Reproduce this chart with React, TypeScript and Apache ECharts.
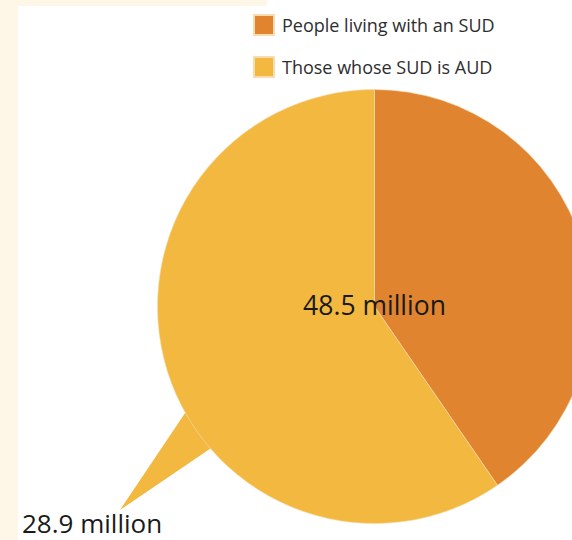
import React, { useEffect, useRef } from "react";
import * as echarts from "echarts";

const categories = ["People living with an SUD", "Those whose SUD is AUD"];
const totals = [48.5, 28.9]; // million
const sliceValues = [48.5 - 28.9, 28.9];
const colors = ["#e08430", "#f2b83f"];
const centerLabel = "48.5 million";
const tailLabel = "28.9 million";

const CX = 374.5;
const CY = 306.5;
const R = 217;

function onCircle(deg: number): number[] {
  const a = (deg * Math.PI) / 180;
  return [CX + R * Math.cos(a), CY - R * Math.sin(a)];
}

export default function App() {
  const ref = useRef<HTMLDivElement>(null);
  useEffect(() => {
    const chart = echarts.init(ref.current!, null, { renderer: "svg" });
    const p1 = onCircle(209.3);
    const p2 = onCircle(220.9);
    chart.setOption({
      animation: false,
      backgroundColor: "#ffffff",
      legend: {
        orient: "vertical",
        left: 253,
        top: 14,
        padding: 0,
        icon: "rect",
        itemWidth: 20,
        itemHeight: 20,
        itemGap: 20,
        textStyle: { fontSize: 18, color: "#2e2e2e", fontFamily: "Open Sans", padding: [0, 0, 0, 3] },
        data: categories,
      },
      graphic: [
        { type: "rect", z: -10, shape: { x: 0, y: 0, width: 18, height: 540 }, style: { fill: "#fef6e6" } },
        { type: "rect", z: -10, shape: { x: 0, y: 0, width: 267, height: 6 }, style: { fill: "#fef6e6" } },
        {
          type: "polygon",
          z: -1,
          shape: { points: [p1, [120, 510], p2] },
          style: { fill: colors[1] },
        },
        {
          type: "text",
          z: 100,
          x: CX,
          y: CY - 2,
          style: {
            text: centerLabel,
            fontSize: 26.5,
            fontFamily: "Open Sans",
            fill: "#1a1a1a",
            align: "center",
            verticalAlign: "middle",
          },
        },
        {
          type: "text",
          z: 100,
          x: 22,
          y: 536,
          style: {
            text: tailLabel,
            fontSize: 26,
            lineHeight: 26,
            fontFamily: "Open Sans",
            fill: "#1a1a1a",
            align: "left",
            verticalAlign: "bottom",
          },
        },
      ],
      series: [
        {
          type: "pie",
          center: [CX, CY],
          radius: R,
          startAngle: 90,
          clockwise: true,
          label: { show: false },
          labelLine: { show: false },
          itemStyle: { borderColor: "#f7dcb0", borderWidth: 0.6 },
          emphasis: { disabled: true },
          data: categories.map((name, i) => ({
            name,
            value: sliceValues[i],
            total: totals[i],
            itemStyle: { color: colors[i] },
          })),
        },
      ],
    });
    return () => chart.dispose();
  }, []);
  return <div ref={ref} style={{ width: 572, height: 540, position: "absolute", left: 0, top: 0 }} />;
}
